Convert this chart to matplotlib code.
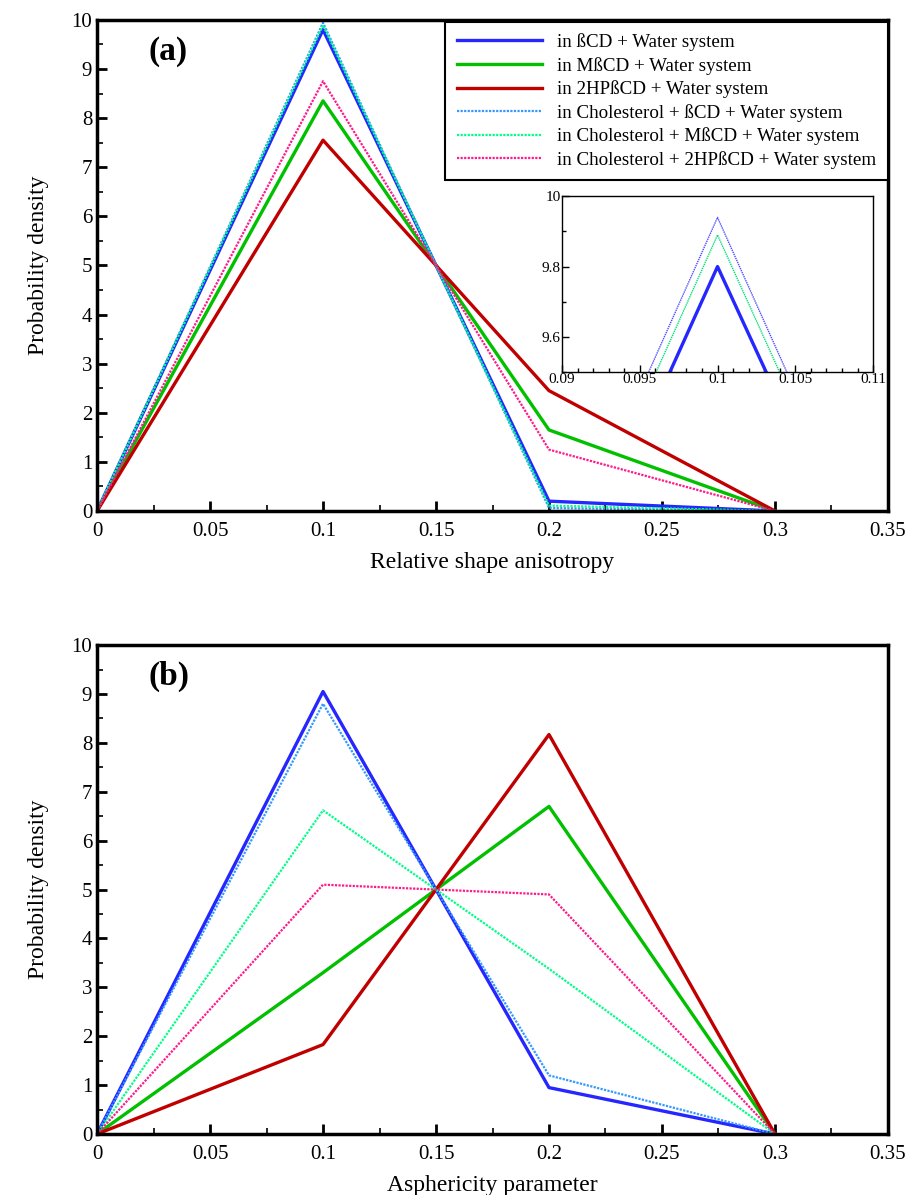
import matplotlib
matplotlib.use("Agg")
import matplotlib.pyplot as plt
from matplotlib.ticker import AutoMinorLocator, MultipleLocator

plt.rcParams["font.family"] = ["Liberation Serif", "DejaVu Serif"]

# x positions of the distribution bins
x = [0.0, 0.1, 0.2, 0.3]

labels = [
    "in ßCD + Water system",
    "in MßCD + Water system",
    "in 2HPßCD + Water system",
    "in Cholesterol + ßCD + Water system",
    "in Cholesterol + MßCD + Water system",
    "in Cholesterol + 2HPßCD + Water system",
]

# panel (a): relative shape anisotropy
rsa_bcd = [0.0, 9.80, 0.20, 0.0]
rsa_mbcd = [0.0, 8.35, 1.65, 0.0]
rsa_hpbcd = [0.0, 7.55, 2.45, 0.0]
rsa_chol_bcd = [0.0, 9.94, 0.06, 0.0]
rsa_chol_mbcd = [0.0, 9.89, 0.11, 0.0]
rsa_chol_hpbcd = [0.0, 8.75, 1.25, 0.0]

# panel (b): asphericity parameter
asp_bcd = [0.0, 9.05, 0.95, 0.0]
asp_mbcd = [0.0, 3.30, 6.70, 0.0]
asp_hpbcd = [0.0, 1.83, 8.17, 0.0]
asp_chol_bcd = [0.0, 8.80, 1.20, 0.0]
asp_chol_mbcd = [0.0, 6.62, 3.38, 0.0]
asp_chol_hpbcd = [0.0, 5.10, 4.90, 0.0]

colors = ["#2626ff", "#00c000", "#c00000", "#3399ff", "#00ff88", "#ff1a8c"]
solid = dict(linestyle="-", linewidth=2.4)
dotted = dict(linestyle=(0, (1, 0.6)), linewidth=1.6)
styles = [solid, solid, solid, dotted, dotted, dotted]


def style_axes(ax, xlabel):
    ax.set_xlim(0, 0.35)
    ax.set_ylim(0, 10)
    ax.xaxis.set_major_locator(MultipleLocator(0.05))
    ax.xaxis.set_minor_locator(AutoMinorLocator(2))
    ax.yaxis.set_major_locator(MultipleLocator(1))
    ax.yaxis.set_minor_locator(AutoMinorLocator(2))
    ax.xaxis.set_major_formatter(plt.FuncFormatter(lambda v, p: f"{v:g}"))
    ax.tick_params(which="both", direction="in", top=False, right=False,
                   labelsize=15, width=2)
    ax.tick_params(which="major", length=7)
    ax.tick_params(which="minor", length=4, width=1.2)
    ax.tick_params(axis="x", which="major", pad=8)
    for s in ax.spines.values():
        s.set_linewidth(2.5)
    ax.set_xlabel(xlabel, fontsize=17, labelpad=8)
    ax.set_ylabel("Probability density", fontsize=17, labelpad=16)


fig = plt.figure(figsize=(9.07, 11.95), dpi=100)
ax1 = fig.add_axes([0.107, 0.5724, 0.872, 0.411])
ax2 = fig.add_axes([0.107, 0.0510, 0.872, 0.4092])

series_a = [rsa_bcd, rsa_mbcd, rsa_hpbcd, rsa_chol_bcd, rsa_chol_mbcd, rsa_chol_hpbcd]
series_b = [asp_bcd, asp_mbcd, asp_hpbcd, asp_chol_bcd, asp_chol_mbcd, asp_chol_hpbcd]

for ys, c, st, lab in zip(series_a, colors, styles, labels):
    ax1.plot(x, ys, color=c, label=lab, **st)
for ys, c, st in zip(series_b, colors, styles):
    ax2.plot(x, ys, color=c, **st)

style_axes(ax1, "Relative shape anisotropy")
style_axes(ax2, "Asphericity parameter")

ax1.text(0.065, 0.935, "(a)", transform=ax1.transAxes, fontsize=24,
         fontweight="bold", va="center")
ax2.text(0.065, 0.935, "(b)", transform=ax2.transAxes, fontsize=24,
         fontweight="bold", va="center")

leg = ax1.legend(loc="upper right", bbox_to_anchor=(1.0, 0.996), fontsize=13.7,
                 handlelength=4.5, handletextpad=0.8, frameon=True,
                 fancybox=False, edgecolor="black", framealpha=1,
                 borderaxespad=0.0, labelspacing=0.3, borderpad=0.6)
leg.get_frame().set_linewidth(1.5)

# inset zoom on the peak of panel (a)
axin = fig.add_axes([0.6196, 0.6887, 0.343, 0.147])
axin.plot(x, rsa_chol_bcd, color="#4d4dff", linestyle=(0, (1, 0.6)), linewidth=1.0)
axin.plot(x, rsa_chol_mbcd, color="#00e07a", linestyle=(0, (1, 0.6)), linewidth=1.0)
axin.plot(x, rsa_bcd, color="#2626ff", linewidth=2.4)
axin.set_xlim(0.09, 0.11)
axin.set_ylim(9.5, 10)
axin.xaxis.set_major_locator(MultipleLocator(0.005))
axin.xaxis.set_minor_locator(MultipleLocator(0.001))
axin.yaxis.set_major_locator(MultipleLocator(0.2))
axin.yaxis.set_minor_locator(MultipleLocator(0.1))
axin.xaxis.set_major_formatter(plt.FuncFormatter(lambda v, p: f"{v:g}"))
axin.yaxis.set_major_formatter(plt.FuncFormatter(lambda v, p: f"{v:g}"))
axin.tick_params(which="both", direction="in", labelsize=11, width=1)
axin.tick_params(which="major", length=5, pad=1)
axin.tick_params(which="minor", length=3)
for s in axin.spines.values():
    s.set_linewidth(1.0)

fig.savefig("out.png", dpi=100)
